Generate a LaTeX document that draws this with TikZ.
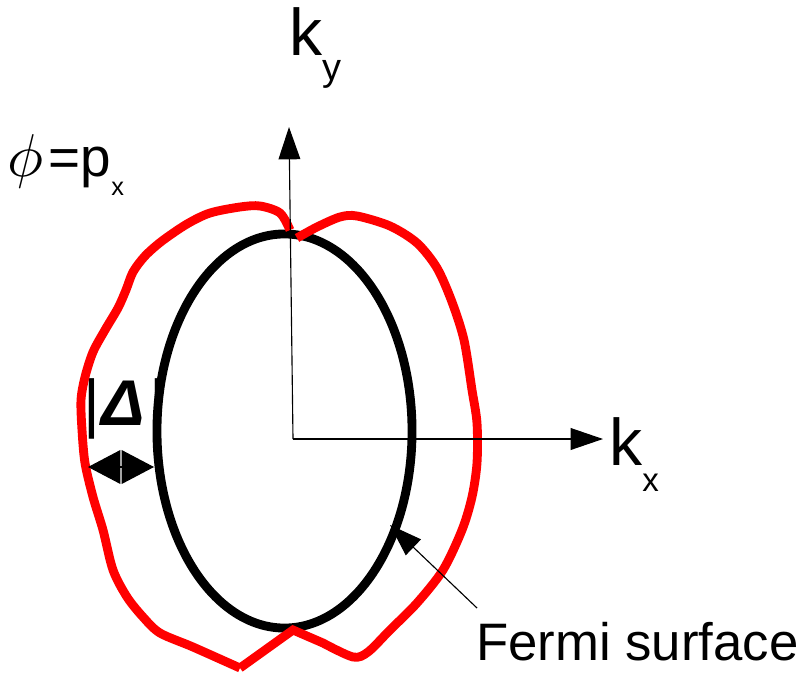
\documentclass[tikz,border=0pt]{standalone}
\usepackage{fontspec}
\setmainfont{Liberation Sans}
\usetikzlibrary{shapes,calc,arrows.meta}

\begin{document}
\begin{tikzpicture}[x=0.025cm,y=-0.025cm,
  tip/.style={-{Triangle[length=23pt,width=15.5pt]}},
  axis/.style={tip,line width=0.8pt},
  lbl/.style={inner sep=0pt,anchor=base west}]
\useasboundingbox (0,0) rectangle (807,677);

\node[lbl] (N0) at (289,55) {\fontsize{47}{47}\selectfont k\raisebox{-18pt}{\fontsize{27}{27}\selectfont y}};
\node[lbl] (N1) at (609,465) {\fontsize{47}{47}\selectfont k\raisebox{-19pt}{\fontsize{23.5}{23.5}\selectfont x}};
\node[lbl] (N2) at (7,176) {\scalebox{4.3}{\normalsize$\phi$}\kern4pt{\fontsize{39}{39}\selectfont =p}\raisebox{-14pt}{\fontsize{18}{18}\selectfont x}};
\node[lbl] (N3) at (83,425) {\fontsize{46}{46}\selectfont |\kern1pt{\bfseries\itshape Δ}\kern3pt|};
\node[lbl] (N4) at (476,660) {\fontsize{37.5}{37.5}\selectfont Fermi surface};

\coordinate (O) at (293,439);
\coordinate (N5) at (289,127);
\coordinate (N6) at (603,439);
\coordinate (N7) at (88,467);
\coordinate (N8) at (154,467);
\coordinate (N11) at (121,467);
\coordinate (N9) at (477,608);
\coordinate (N10) at (390,525);

\draw[line width=6.3pt] (284.5,431) ellipse [x radius=3.1875cm, y radius=4.925cm];

\draw[red,line width=6.3pt] plot[smooth] coordinates {(297,238) (317,227) (340,217) (357,216) (390,226) (417,243) (437,268) (452,302) (464,340) (472,390) (477,423) (477,463) (472,497) (462,530) (443,570) (417,603) (390,630) (368,652) (353,657) (323,643)}
  -- (293,630) -- (240,668)
  plot[smooth] coordinates {(240,668) (193,647) (160,633) (143,617) (127,597) (113,570) (103,530) (93,497) (85,463) (82,430) (81,400) (85,377) (93,352) (105,330) (118,308) (126,290) (133,272) (145,256) (162,241) (187,224) (210,213) (240,207) (260,206) (280,213) (290,230)};

\path[axis] (O) edge (N5) (O) edge (N6);
\draw[-{Triangle[length=23pt,width=24pt]},line width=0.8pt] (N11) -- (N7);
\draw[-{Triangle[length=23pt,width=24pt]},line width=0.8pt] (N11) -- (N8);
\draw[tip,line width=0.8pt] (N9) -- (N10);
\end{tikzpicture}
\end{document}
